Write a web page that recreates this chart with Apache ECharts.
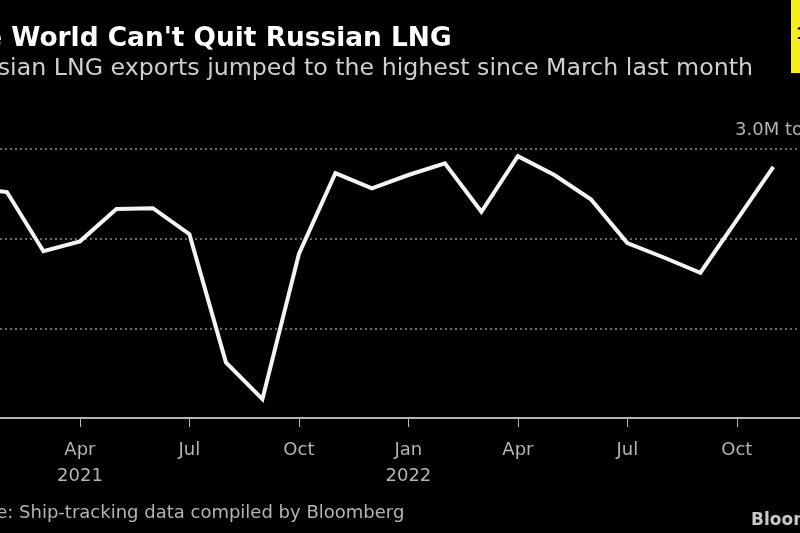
<!DOCTYPE html>
<html lang="en">
<head>
    <meta charset="UTF-8">
    <title>The World Can't Quit Russian LNG</title>
    <script src="https://cdn.jsdelivr.net/npm/echarts@6/dist/echarts.min.js"></script>
    <style>
        html, body { margin: 0; background: #000; overflow: hidden; }
        #chart { width: 800px; height: 533px; }
    </style>
</head>
<body>
    <div id="chart"></div>
<script>
    // monthly, Jan 2021 to Nov 2022, million tons
    var months = ['Jan', 'Feb', 'Mar', 'Apr', 'May', 'Jun', 'Jul', 'Aug', 'Sep', 'Oct', 'Nov', 'Dec',
        'Jan', 'Feb', 'Mar', 'Apr', 'May', 'Jun', 'Jul', 'Aug', 'Sep', 'Oct', 'Nov'];
    var lngExports = [2.56, 2.52, 1.86, 1.97, 2.33, 2.34, 2.05, 0.62, 0.21, 1.83, 2.73, 2.56,
        2.71, 2.84, 2.30, 2.92, 2.71, 2.44, 1.95, 1.79, 1.62, 2.21, 2.80];
    var tickIndexes = [3, 6, 9, 12, 15, 18, 21];
    var yearLabels = { 3: '2021', 12: '2022' };

    var font = '"DejaVu Sans"';
    var chart = echarts.init(document.getElementById('chart'));

    function text(x, y, str, size, color, weight) {
        return {
            type: 'text', x: x, y: y,
            style: { text: str, fontFamily: font, fontSize: size, fill: color, fontWeight: weight || 'normal', textVerticalAlign: 'middle' }
        };
    }

    chart.setOption({
        backgroundColor: '#000',
        animation: false,
        grid: { left: 0, right: 0, top: 149, bottom: 115 },
        xAxis: {
            type: 'value',
            // picture is cropped, so the axis starts and ends between months
            min: 0.81,
            max: 22.73,
            axisLine: { lineStyle: { color: '#b5b5b5', width: 2 } },
            axisTick: { length: 9, customValues: tickIndexes, lineStyle: { color: '#b5b5b5', width: 1 } },
            axisLabel: {
                customValues: tickIndexes,
                margin: 19,
                fontFamily: font,
                fontSize: 18,
                lineHeight: 26,
                color: '#b4b4b4',
                formatter: function (v) {
                    return yearLabels[v] ? months[v] + '\n' + yearLabels[v] : months[v];
                }
            },
            splitLine: { show: false }
        },
        yAxis: {
            type: 'value',
            min: 0,
            max: 3,
            interval: 1,
            axisLine: { show: false },
            axisTick: { show: false },
            axisLabel: { show: false },
            splitLine: { lineStyle: { color: '#8a8a8a', type: [2, 3], width: 1.5 } }
        },
        series: [{
            type: 'line',
            data: lngExports.map(function (v, i) { return [i, v]; }),
            symbol: 'none',
            lineStyle: { color: '#f4f4f4', width: 4, join: 'miter' }
        }],
        graphic: [
            text(-52.6, 39, "The World Can't Quit Russian LNG", 26.4, '#ffffff', 'bold'),
            text(-45, 69, 'Russian LNG exports jumped to the highest since March last month', 23.7, '#cfcfcf'),
            text(735, 130, '3.0M tons', 18, '#b4b4b4'),
            text(-54.5, 513, 'Source: Ship-tracking data compiled by Bloomberg', 18, '#b4b4b4'),
            text(751, 521, 'Bloomberg', 17, '#c8c8c8', 'bold'),
            { type: 'rect', shape: { x: 791, y: 0, width: 9, height: 73 }, style: { fill: '#f6ee1c' } },
            text(796, 35, '1', 16, '#000000', 'bold')
        ]
    });
</script>
</body>
</html>
